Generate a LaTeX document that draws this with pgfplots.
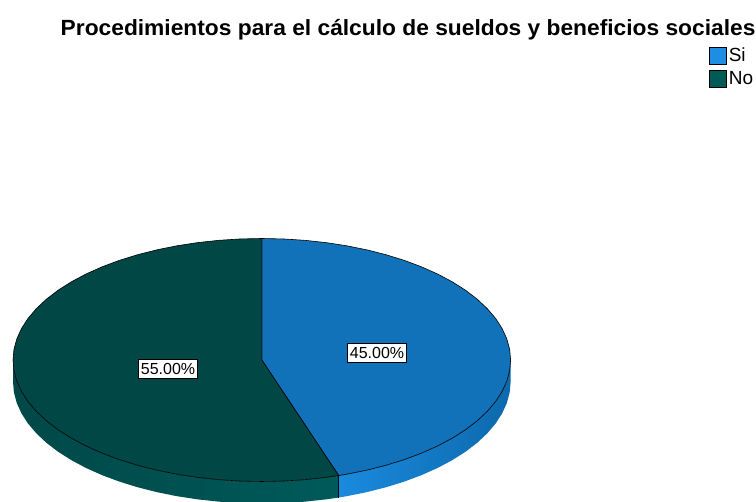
\documentclass[border=0pt]{standalone}
\usepackage{pgfplots}
\pgfplotsset{compat=1.18}
\usepackage{fontspec}
\setmainfont{Liberation Sans}
\usepackage{graphicx}

\definecolor{siTop}{HTML}{1172B9}
\definecolor{siSideL}{HTML}{1A8ADE}
\definecolor{siSideR}{HTML}{0D69AC}
\definecolor{noTop}{HTML}{004746}
\definecolor{noSideL}{HTML}{004848}
\definecolor{noSideR}{HTML}{005A5A}
\definecolor{legSi}{HTML}{1F8DE3}
\definecolor{legNo}{HTML}{005A55}

\begin{document}
\begin{tikzpicture}
\begin{axis}[
  scale only axis,
  width=756pt, height=502pt,
  xmin=-1.0523, xmax=1.9863,
  ymin=-1.1687, ymax=2.9630,
  hide axis,
  legend style={at={(axis cs:1.797,2.585)}, anchor=north west, draw=none, fill=none,
    font=\fontsize{19}{21}\selectfont, inner sep=0pt, row sep=4pt,
    cells={anchor=west}},
  legend image code/.code={\draw[#1, draw=black, line width=0.7pt] (0pt,-8.5pt) rectangle (17pt,8.5pt);},
]
\path (rel axis cs:0,0) rectangle (rel axis cs:1,1);
% sides (depth 0.181)
\addplot[forget plot, draw=none, left color=noSideL, right color=noSideR] coordinates {
(0.3090,-0.9511) (0.2588,-0.9659) (0.1736,-0.9848) (0.0872,-0.9962) (0,-1)
(-0.0872,-0.9962) (-0.1736,-0.9848) (-0.2588,-0.9659) (-0.3420,-0.9397) (-0.4226,-0.9063)
(-0.5,-0.8660) (-0.5736,-0.8192) (-0.6428,-0.7660) (-0.7071,-0.7071) (-0.7660,-0.6428)
(-0.8192,-0.5736) (-0.8660,-0.5) (-0.9063,-0.4226) (-0.9397,-0.3420) (-0.9659,-0.2588)
(-0.9848,-0.1736) (-0.9962,-0.0872) (-1,0)
(-1,-0.181) (-0.9962,-0.2682) (-0.9848,-0.3546) (-0.9659,-0.4398) (-0.9397,-0.5230)
(-0.9063,-0.6036) (-0.8660,-0.6810) (-0.8192,-0.7546) (-0.7660,-0.8238) (-0.7071,-0.8881)
(-0.6428,-0.9470) (-0.5736,-1.0002) (-0.5,-1.0470) (-0.4226,-1.0873) (-0.3420,-1.1207)
(-0.2588,-1.1469) (-0.1736,-1.1658) (-0.0872,-1.1772) (0,-1.181) (0.0872,-1.1772)
(0.1736,-1.1658) (0.2588,-1.1469) (0.3090,-1.1321)
} -- cycle;
\addplot[forget plot, draw=none, left color=siSideL, right color=siSideR] coordinates {
(1,0) (0.9962,-0.0872) (0.9848,-0.1736) (0.9659,-0.2588) (0.9397,-0.3420) (0.9063,-0.4226)
(0.8660,-0.5) (0.8192,-0.5736) (0.7660,-0.6428) (0.7071,-0.7071) (0.6428,-0.7660)
(0.5736,-0.8192) (0.5,-0.8660) (0.4226,-0.9063) (0.3420,-0.9397) (0.3090,-0.9511)
(0.3090,-1.1321) (0.3420,-1.1207) (0.4226,-1.0873) (0.5,-1.0470) (0.5736,-1.0002)
(0.6428,-0.9470) (0.7071,-0.8881) (0.7660,-0.8238) (0.8192,-0.7546) (0.8660,-0.6810)
(0.9063,-0.6036) (0.9397,-0.5230) (0.9659,-0.4398) (0.9848,-0.3546) (0.9962,-0.2682)
(1,-0.181)
} -- cycle;
\addplot[forget plot, black, line width=0.6pt] coordinates {(0.3090,-0.9511) (0.3090,-1.1321)};
% tops: Si 45%, No 55%
\addplot[forget plot, fill=siTop, draw=black, line width=0.6pt, line join=round] coordinates {
(0,0) (0,1) (0.0872,0.9962) (0.1736,0.9848) (0.2588,0.9659) (0.3420,0.9397) (0.4226,0.9063)
(0.5,0.8660) (0.5736,0.8192) (0.6428,0.7660) (0.7071,0.7071) (0.7660,0.6428) (0.8192,0.5736)
(0.8660,0.5) (0.9063,0.4226) (0.9397,0.3420) (0.9659,0.2588) (0.9848,0.1736) (0.9962,0.0872)
(1,0) (0.9962,-0.0872) (0.9848,-0.1736) (0.9659,-0.2588) (0.9397,-0.3420) (0.9063,-0.4226)
(0.8660,-0.5) (0.8192,-0.5736) (0.7660,-0.6428) (0.7071,-0.7071) (0.6428,-0.7660)
(0.5736,-0.8192) (0.5,-0.8660) (0.4226,-0.9063) (0.3420,-0.9397) (0.3090,-0.9511)
} -- cycle;
\addplot[forget plot, fill=noTop, draw=black, line width=0.6pt, line join=round] coordinates {
(0,0) (0.3090,-0.9511) (0.2588,-0.9659) (0.1736,-0.9848) (0.0872,-0.9962) (0,-1)
(-0.0872,-0.9962) (-0.1736,-0.9848) (-0.2588,-0.9659) (-0.3420,-0.9397) (-0.4226,-0.9063)
(-0.5,-0.8660) (-0.5736,-0.8192) (-0.6428,-0.7660) (-0.7071,-0.7071) (-0.7660,-0.6428)
(-0.8192,-0.5736) (-0.8660,-0.5) (-0.9063,-0.4226) (-0.9397,-0.3420) (-0.9659,-0.2588)
(-0.9848,-0.1736) (-0.9962,-0.0872) (-1,0) (-0.9962,0.0872) (-0.9848,0.1736) (-0.9659,0.2588)
(-0.9397,0.3420) (-0.9063,0.4226) (-0.8660,0.5) (-0.8192,0.5736) (-0.7660,0.6428)
(-0.7071,0.7071) (-0.6428,0.7660) (-0.5736,0.8192) (-0.5,0.8660) (-0.4226,0.9063)
(-0.3420,0.9397) (-0.2588,0.9659) (-0.1736,0.9848) (-0.0872,0.9962) (0,1)
} -- cycle;
% labels
\node[fill=white, draw=black, line width=0.7pt, inner xsep=2.5pt, inner ysep=3.5pt, font=\fontsize{16}{18}\selectfont]
  at (axis cs:0.463,0.058) {45.00\%};
\node[fill=white, draw=black, line width=0.7pt, inner xsep=2.5pt, inner ysep=3.5pt, font=\fontsize{16}{18}\selectfont]
  at (axis cs:-0.377,-0.074) {55.00\%};
\node[font=\fontsize{22}{24}\selectfont\bfseries] at (axis cs:0.588,2.72)
  {\scalebox{1.035}[1]{Procedimientos para el cálculo de sueldos y beneficios sociales}};
\addlegendimage{fill=legSi}\addlegendentry{Si}
\addlegendimage{fill=legNo}\addlegendentry{No}
\end{axis}
\end{tikzpicture}
\end{document}
